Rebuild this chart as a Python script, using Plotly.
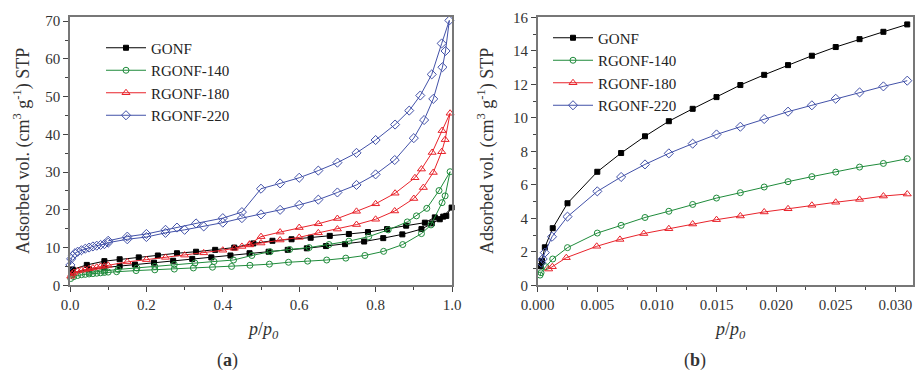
import plotly.graph_objects as go

# ---------------- Panel (a): full isotherms (adsorption + desorption) ----------------
gonf_ads_p = [0.003, 0.05, 0.09, 0.13, 0.17, 0.22, 0.27, 0.32, 0.37, 0.42, 0.47, 0.52, 0.57, 0.62,
              0.67, 0.72, 0.77, 0.82, 0.87, 0.92, 0.947, 0.968, 0.985, 0.999]
gonf_ads_v = [3.2, 4.2, 4.7, 5.1, 5.5, 6.0, 6.5, 7.0, 7.4, 7.9, 8.5, 8.9, 9.4, 9.8,
              10.4, 10.9, 11.6, 12.5, 13.5, 14.9, 16.4, 17.5, 18.4, 20.6]
gonf_des_p = [0.977, 0.955, 0.929, 0.88, 0.83, 0.78, 0.73, 0.68, 0.63, 0.58, 0.53, 0.48, 0.43,
              0.38, 0.33, 0.28, 0.23, 0.18, 0.13, 0.09, 0.044, 0.007]
gonf_des_v = [18.2, 18.0, 16.6, 15.8, 14.9, 14.1, 13.6, 13.1, 12.6, 12.2, 11.8, 11.1, 10.0,
              9.4, 8.9, 8.5, 7.9, 7.4, 6.9, 6.4, 5.4, 4.2]

r140_ads_p = [0.002, 0.01, 0.02, 0.03, 0.04, 0.05, 0.06, 0.07, 0.08, 0.09, 0.1, 0.122, 0.173, 0.222,
              0.273, 0.323, 0.373, 0.423, 0.471, 0.522, 0.572, 0.622, 0.672, 0.722, 0.772, 0.821,
              0.871, 0.92, 0.945, 0.974, 0.982, 0.995]
r140_ads_v = [1.8, 2.3, 2.6, 2.8, 2.9, 3.0, 3.1, 3.2, 3.3, 3.4, 3.5, 3.6, 3.9, 4.1,
              4.3, 4.6, 4.8, 5.0, 5.3, 5.6, 6.1, 6.4, 6.7, 7.2, 7.9, 9.0,
              10.8, 13.7, 16.0, 21.9, 23.7, 30.1]
r140_des_p = [0.966, 0.934, 0.907, 0.883, 0.833, 0.782, 0.73, 0.678, 0.626, 0.575, 0.524, 0.476,
              0.428, 0.377, 0.327, 0.273, 0.222, 0.175, 0.126, 0.09, 0.05]
r140_des_v = [25.1, 20.4, 18.4, 16.8, 14.7, 12.9, 11.7, 10.8, 10.0, 9.5, 8.9, 7.9,
              6.7, 6.3, 5.9, 5.5, 5.0, 4.6, 4.2, 3.8, 3.4]

r180_ads_p = [0.002, 0.005, 0.01, 0.02, 0.03, 0.04, 0.05, 0.06, 0.07, 0.08, 0.09, 0.1, 0.15, 0.2,
              0.25, 0.3, 0.35, 0.4, 0.43, 0.45, 0.47, 0.5, 0.55, 0.6, 0.65, 0.7, 0.75, 0.8, 0.85,
              0.9, 0.925, 0.951, 0.973, 0.982, 0.995]
r180_ads_v = [2.4, 3.0, 3.4, 3.8, 4.0, 4.2, 4.4, 4.6, 4.8, 5.0, 5.1, 5.3, 6.2, 6.8,
              7.4, 8.0, 8.6, 9.3, 9.8, 10.3, 10.7, 11.2, 12.0, 12.7, 13.9, 14.9, 16.1, 17.5, 19.7,
              23.0, 25.9, 29.9, 35.4, 38.6, 45.6]
r180_des_p = [0.974, 0.948, 0.92, 0.903, 0.851, 0.8, 0.75, 0.7, 0.65, 0.6, 0.55, 0.5, 0.47]
r180_des_v = [41.0, 35.2, 30.8, 28.5, 24.4, 21.6, 19.6, 17.7, 16.3, 15.3, 14.1, 12.9, 10.9]

r220_ads_p = [0.001, 0.003, 0.007, 0.013, 0.02, 0.03, 0.04, 0.05, 0.06, 0.07, 0.08, 0.09, 0.1,
              0.15, 0.2, 0.25, 0.3, 0.35, 0.4, 0.45, 0.5, 0.55, 0.6, 0.65, 0.7, 0.75, 0.8, 0.85,
              0.9, 0.927, 0.951, 0.975, 0.983, 0.993]
r220_ads_v = [5.4, 7.0, 7.8, 8.5, 8.9, 9.3, 9.7, 10.0, 10.3, 10.5, 10.7, 10.9, 11.3,
              12.2, 12.8, 13.9, 14.7, 15.6, 16.6, 17.8, 18.8, 20.0, 21.3, 22.7, 24.6, 26.6, 29.4, 33.2,
              39.0, 43.8, 49.4, 57.8, 62.1, 70.2]
r220_des_p = [0.973, 0.947, 0.917, 0.888, 0.851, 0.8, 0.75, 0.7, 0.65, 0.6, 0.55, 0.5, 0.45,
              0.4, 0.33, 0.28, 0.25, 0.2, 0.15, 0.1]
r220_des_v = [64.1, 55.9, 50.3, 46.3, 42.6, 38.5, 35.1, 32.5, 30.4, 28.5, 27.0, 25.6, 19.4,
              17.8, 16.4, 15.3, 14.7, 13.6, 12.9, 11.8]

# ---------------- Panel (b): low-pressure region ----------------
gonf_b_p = [0.00025, 0.00036, 0.0006, 0.00126, 0.0025, 0.005, 0.007, 0.009, 0.011, 0.013, 0.015,
            0.017, 0.019, 0.021, 0.023, 0.025, 0.027, 0.029, 0.031]
gonf_b_v = [1.14, 1.46, 2.27, 3.41, 4.9, 6.78, 7.9, 8.9, 9.8, 10.54, 11.24,
            11.96, 12.57, 13.15, 13.71, 14.23, 14.7, 15.14, 15.58]
r140_b_p = [0.0002, 0.00028, 0.00067, 0.00126, 0.0025, 0.005, 0.007, 0.009, 0.011, 0.013, 0.015,
            0.017, 0.019, 0.021, 0.023, 0.025, 0.027, 0.029, 0.031]
r140_b_v = [0.61, 0.75, 1.11, 1.57, 2.25, 3.12, 3.58, 4.05, 4.42, 4.83, 5.21,
            5.53, 5.87, 6.19, 6.49, 6.76, 7.06, 7.28, 7.56]
r180_b_p = [0.00092, 0.00123, 0.0024, 0.00495, 0.0069, 0.0089, 0.011, 0.013, 0.015,
            0.017, 0.019, 0.021, 0.023, 0.025, 0.027, 0.029, 0.031]
r180_b_v = [0.97, 1.11, 1.65, 2.33, 2.74, 3.09, 3.38, 3.66, 3.92,
            4.14, 4.38, 4.57, 4.78, 4.96, 5.13, 5.33, 5.45]
r220_b_p = [0.0003, 0.00042, 0.0006, 0.0012, 0.0025, 0.005, 0.007, 0.009, 0.011, 0.013, 0.015,
            0.017, 0.019, 0.021, 0.023, 0.025, 0.027, 0.029, 0.031]
r220_b_v = [1.35, 1.57, 1.95, 2.9, 4.1, 5.61, 6.47, 7.22, 7.88, 8.46, 9.01,
            9.47, 9.93, 10.37, 10.75, 11.14, 11.52, 11.88, 12.22]

names = ["GONF", "RGONF-140", "RGONF-180", "RGONF-220"]
colors = ["#000000", "#1f8b3b", "#e8232b", "#4251a8"]
symbols = ["square", "circle-open", "triangle-up-open", "diamond-open"]
msizes = [5, 6, 7, 7]

panel_a = [
    (gonf_ads_p + gonf_des_p, gonf_ads_v + gonf_des_v),
    (r140_ads_p + r140_des_p, r140_ads_v + r140_des_v),
    (r180_ads_p + r180_des_p, r180_ads_v + r180_des_v),
    (r220_ads_p + r220_des_p, r220_ads_v + r220_des_v),
]
panel_b = [
    (gonf_b_p, gonf_b_v),
    (r140_b_p, r140_b_v),
    (r180_b_p, r180_b_v),
    (r220_b_p, r220_b_v),
]

fig = go.Figure()
for i, name in enumerate(names):
    xa, ya = panel_a[i]
    fig.add_trace(go.Scatter(
        x=xa, y=ya, name=name, mode="lines+markers", xaxis="x", yaxis="y",
        line=dict(color=colors[i], width=1),
        marker=dict(symbol=symbols[i], size=msizes[i], color=colors[i],
                    line=dict(color=colors[i], width=1)),
        cliponaxis=False, legend="legend"))
for i, name in enumerate(names):
    xb, yb = panel_b[i]
    fig.add_trace(go.Scatter(
        x=xb, y=yb, name=name, mode="lines+markers", xaxis="x2", yaxis="y2",
        line=dict(color=colors[i], width=1),
        marker=dict(symbol=symbols[i], size=msizes[i], color=colors[i],
                    line=dict(color=colors[i], width=1)),
        cliponaxis=False, legend="legend2"))

FONT = "Liberation Serif"
W, H = 916, 370
ydom = [1 - 285.3 / H, 1 - 17.4 / H]

def axis(domain, rng, dtick, mdtick, fmt, anchor):
    return dict(domain=domain, range=rng, dtick=dtick, tick0=0, tickformat=fmt,
                ticks="outside", ticklen=5, tickwidth=1, tickcolor="#444",
                minor=dict(dtick=mdtick, ticks="outside", ticklen=3, tickcolor="#444", tickwidth=1),
                showline=True, linecolor="#777", linewidth=1.5, mirror=True,
                showgrid=False, zeroline=False, anchor=anchor, automargin=False,
                tickfont=dict(family=FONT, size=15, color="#333"))

legend_common = dict(font=dict(family=FONT, size=15, color="#222"), bgcolor="rgba(0,0,0,0)",
                     borderwidth=0, xanchor="left", yanchor="top", itemwidth=40,
                     tracegroupgap=0)

fig.update_layout(
    width=W, height=H, margin=dict(l=0, r=0, t=0, b=0, autoexpand=False),
    paper_bgcolor="white", plot_bgcolor="white",
    xaxis=axis([70 / W, 452 / W], [0, 1], 0.2, 0.1, ".1f", "y"),
    yaxis=axis(ydom, [0, 71], 10, 5, "d", "x"),
    xaxis2=axis([537.7 / W, 913.2 / W], [0, 0.0315], 0.005, 0.0025, ".3f", "y2"),
    yaxis2=axis(ydom, [0, 16], 2, 1, "d", "x2"),
    legend=dict(x=101 / W, y=1 - 31.5 / H, **legend_common),
    legend2=dict(x=548 / W, y=1 - 21.5 / H, **legend_common),
    showlegend=True,
)

ytitle = "Adsorbed vol. (cm<sup>3</sup> g<sup>-1</sup>) STP"
xtitle = "<i>p</i>/<i>p</i><sub><i>0</i></sub>"
ann = [
    dict(text=ytitle, x=22 / W, y=1 - 151 / H, textangle=-90, size=18),
    dict(text=ytitle, x=486 / W, y=1 - 151 / H, textangle=-90, size=18),
    dict(text=xtitle, x=263 / W, y=1 - 330 / H, textangle=0, size=18),
    dict(text=xtitle, x=730 / W, y=1 - 330 / H, textangle=0, size=18),
    dict(text="(<b>a</b>)", x=227 / W, y=1 - 360 / H, textangle=0, size=18),
    dict(text="(<b>b</b>)", x=695 / W, y=1 - 360 / H, textangle=0, size=18),
]
for a in ann:
    fig.add_annotation(text=a["text"], x=a["x"], y=a["y"], xref="paper", yref="paper",
                       xanchor="center", yanchor="middle", showarrow=False,
                       textangle=a["textangle"],
                       font=dict(family=FONT, size=a["size"], color="#333"))

fig.write_html("out.html")
